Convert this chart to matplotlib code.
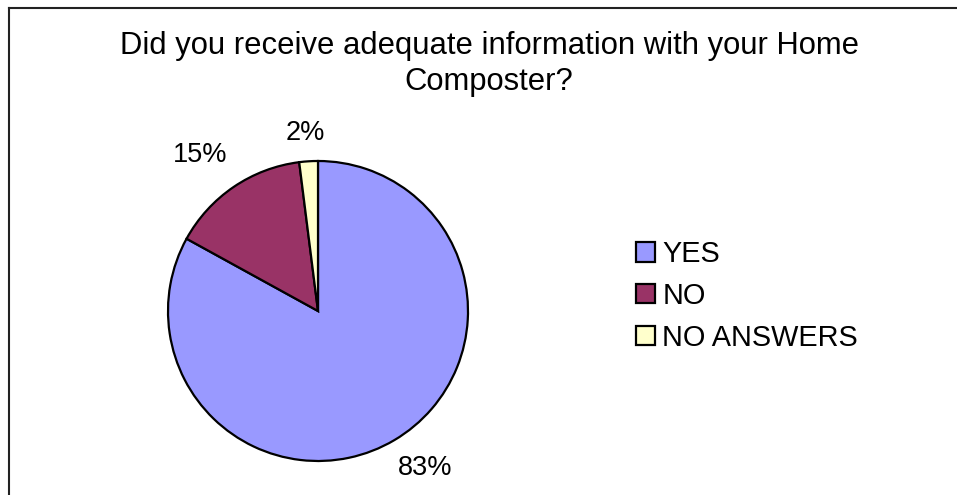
import matplotlib
matplotlib.use("Agg")
import matplotlib.pyplot as plt
from matplotlib.lines import Line2D

categories = ["YES", "NO", "NO ANSWERS"]
values = [83, 15, 2]
colors = ["#9999FF", "#993366", "#FFFFCC"]
title = "Did you receive adequate information with your Home\nComposter?"

plt.rcParams['font.family'] = ['Liberation Sans', 'DejaVu Sans']

W, H = 957, 495
fig = plt.figure(figsize=(W / 100, H / 100), dpi=100)
fig.patch.set_facecolor("white")

# pie axes: center (318, 311) px, radius 150 px
cx, cy, r = 318, 311, 150
ax = fig.add_axes([(cx - r) / W, (H - cy - r) / H, 2 * r / W, 2 * r / H])
wedges, texts = ax.pie(values, colors=colors, startangle=90, counterclock=False,
                       wedgeprops=dict(edgecolor="black", linewidth=1.6))
ax.set_xlim(-1, 1)
ax.set_ylim(-1, 1)
ax.set_aspect("auto")
ax.axis("off")

label_pos = [(0.713, -1.047), (-0.787, 1.04), (-0.087, 1.187)]
for v, (x, y) in zip(values, label_pos):
    ax.text(x, y, f"{v}%", ha="center", va="center", fontsize=19.5, clip_on=False)

fig.text(0.511, 1 - 64 / H, title, ha="center", va="center", fontsize=22.3,
         linespacing=1.25)

leg = fig.legend(wedges, categories, loc="center left",
                 bbox_to_anchor=(622 / W, 1 - 296 / H), frameon=False,
                 fontsize=20.8, handlelength=0.65, handleheight=0.65,
                 handletextpad=0.25, labelspacing=0.48, borderpad=0)

# frame (left and top edges visible)
fig.add_artist(Line2D([8.5 / W, 8.5 / W], [0, 1 - 8 / H], transform=fig.transFigure,
                      color="#222222", lw=1.5))
fig.add_artist(Line2D([8.5 / W, 1], [1 - 8 / H, 1 - 8 / H], transform=fig.transFigure,
                      color="#222222", lw=1.5))

fig.savefig("out.png", dpi=100)
